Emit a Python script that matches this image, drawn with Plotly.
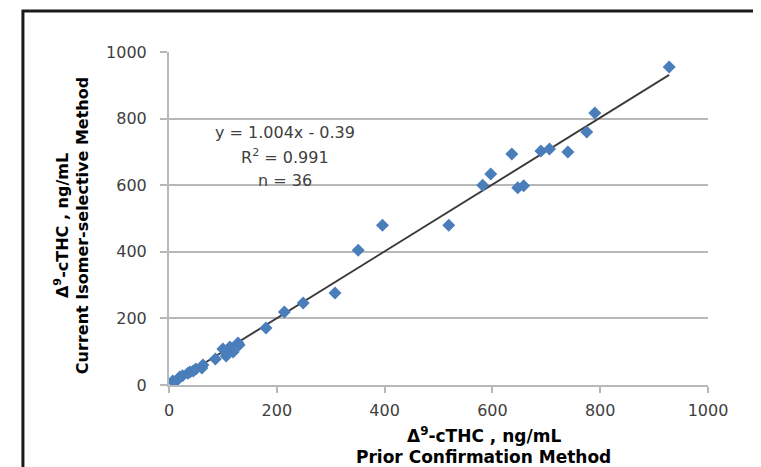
import plotly.graph_objects as go

# Prior confirmation method (x) vs current isomer-selective method (y), ng/mL
x_prior = [928, 790, 775, 740, 706, 690, 658, 647, 636, 597, 582, 519, 396, 351, 308, 249, 214, 180,
           128, 113, 119, 106, 86, 63, 61, 39, 35, 20, 15, 7, 45, 25, 10, 50, 100, 130]
y_current = [955, 817, 760, 700, 709, 703, 598, 592, 694, 634, 600, 480, 480, 405, 276, 246, 219, 171,
             126, 114, 99, 87, 78, 60, 51, 39, 35, 24, 15, 12, 42, 28, 8, 48, 108, 120]

slope = 1.004
intercept = -0.39
fit_text = ["y = 1.004x - 0.39", "R<sup>2</sup> = 0.991", "n = 36"]
tick_vals = [0, 200, 400, 600, 800, 1000]

# regression line over the data range
fit_x = [min(x_prior), max(x_prior)]
fit_y = [slope * v + intercept for v in fit_x]

fig = go.Figure()

fig.add_trace(go.Scatter(
    x=fit_x, y=fit_y, mode='lines',
    line=dict(color='#3a3a3a', width=1.8),
    hoverinfo='skip', showlegend=False
))

fig.add_trace(go.Scatter(
    x=x_prior, y=y_current, mode='markers',
    marker=dict(symbol='diamond', size=10, color='#4a7ebb'),
    showlegend=False
))

tick_font = dict(family='DejaVu Sans', size=16, color='#404040')

# note: the page body has an 8px margin, so margins are reduced by 8
fig.update_layout(
    width=761, height=467,
    margin=dict(l=161, r=61, t=44, b=90),
    paper_bgcolor='white', plot_bgcolor='white',
    xaxis=dict(range=[0, 1000], tickvals=tick_vals, showgrid=False, zeroline=False,
               showline=True, linecolor='#b8b8b8', linewidth=2,
               ticks='outside', ticklen=6, tickwidth=2, tickcolor='#b8b8b8',
               ticklabelstandoff=4, tickfont=tick_font),
    yaxis=dict(range=[0, 1000], tickvals=tick_vals, showgrid=True, gridcolor='#b8b8b8',
               gridwidth=2, zeroline=False,
               showline=True, linecolor='#b8b8b8', linewidth=2,
               ticks='outside', ticklen=7, tickwidth=2, tickcolor='#b8b8b8',
               ticklabelstandoff=10, tickfont=tick_font),
)

# regression stats, one line each
for i, line in enumerate(fit_text):
    fig.add_annotation(
        xref='paper', yref='paper', x=0.215, y=0.685 - (i - 1) * 0.072,
        text=line, showarrow=False, xanchor='center', yanchor='middle',
        font=dict(family='DejaVu Sans', size=16, color='#404040')
    )

# x axis title (two lines)
x_title = ['<b>Δ<sup>9</sup>-cTHC , ng/mL</b>', '<b>Prior Confirmation Method</b>']
for i, line in enumerate(x_title):
    fig.add_annotation(
        xref='paper', yref='paper', x=0.584, y=-0.15 - i * 0.066,
        text=line, showarrow=False, xanchor='center', yanchor='middle',
        font=dict(family='DejaVu Sans', size=17, color='black')
    )

# y axis title (rotated)
fig.add_annotation(
    xref='paper', yref='paper', x=-0.18, y=0.48,
    text='<b>Δ<sup>9</sup>-cTHC , ng/mL</b><br><b>Current Isomer-selective Method</b>',
    showarrow=False, align='center', textangle=-90, xanchor='center', yanchor='middle',
    font=dict(family='DejaVu Sans', size=16, color='black')
)

# outer frame
fig.add_shape(type='rect', xref='paper', yref='paper',
              x0=-0.271, x1=1.093, y0=-0.3, y1=1.123,
              line=dict(color='#1a1a1a', width=3))

fig.write_html("out.html")
